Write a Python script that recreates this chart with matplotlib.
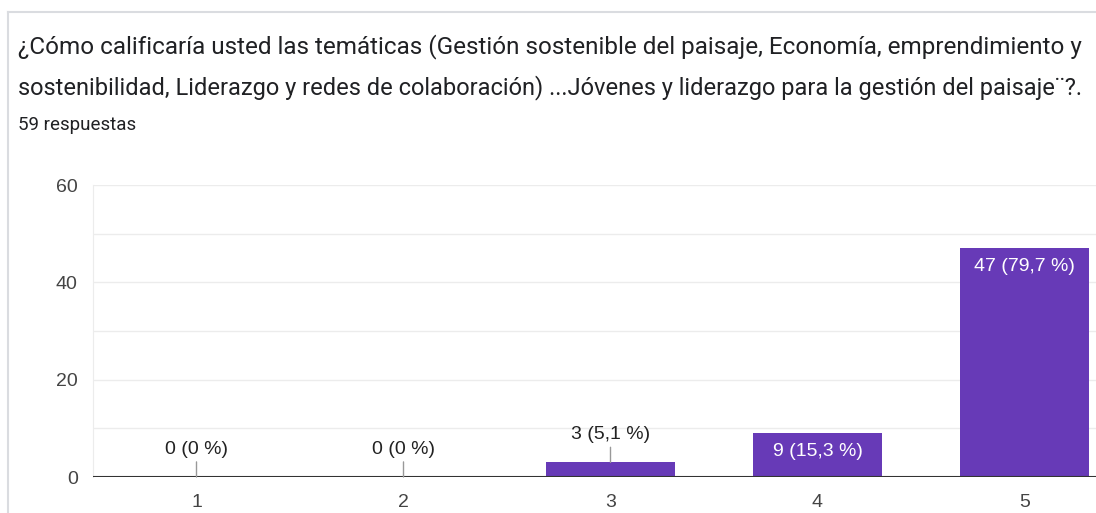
import matplotlib.pyplot as plt
from matplotlib.lines import Line2D

plt.rcParams['font.family'] = ['Roboto', 'DejaVu Sans']

# datos
categorias = ['1', '2', '3', '4', '5']
respuestas = [0, 0, 3, 9, 47]
porcentajes = ['0', '0', '5,1', '15,3', '79,7']
yticks = [0, 20, 40, 60]

titulo_1 = '¿Cómo calificaría usted las temáticas (Gestión sostenible del paisaje, Economía, emprendimiento y'
titulo_2 = 'sostenibilidad, Liderazgo y redes de colaboración) ...Jóvenes y liderazgo para la gestión del paisaje¨?.'
subtitulo = '59 respuestas'

W, H = 1096, 513
fig = plt.figure(figsize=(W / 100, H / 100), dpi=100)
fig.patch.set_facecolor('white')

# borde de la tarjeta
fig.add_artist(Line2D([8 / W, 1], [1 - 12 / H, 1 - 12 / H], transform=fig.transFigure,
                      color='#dadce0', lw=1.5))
fig.add_artist(Line2D([8 / W, 8 / W], [0, 1 - 12 / H], transform=fig.transFigure,
                      color='#dadce0', lw=1.5))

fig.text(18 / W, 1 - 47 / H, titulo_1, fontsize=17.5, color='#202124', va='center', ha='left')
fig.text(18 / W, 1 - 88 / H, titulo_2, fontsize=17.0, color='#202124', va='center', ha='left')
fig.text(18 / W, 1 - 125 / H, subtitulo, fontsize=13.5, color='#202124', va='center', ha='left')

fuente = ['Liberation Sans', 'DejaVu Sans']

paso = 207
ax = fig.add_axes([93 / W, 36 / H, 5 * paso / W, (477 - 185) / H])
x = list(range(1, len(categorias) + 1))
ax.bar(x, respuestas, width=0.62, color='#673ab7', zorder=3)

ax.set_xlim(0.5, 5.5)
ax.set_ylim(0, 60)
ax.set_yticks(yticks)
ax.set_yticks(range(0, 61, 10), minor=True)
ax.set_xticks(x)
ax.set_xticklabels(categorias)
ax.grid(axis='y', which='both', color='#ececec', lw=1, zorder=0)
ax.tick_params(axis='both', which='both', length=0, labelsize=14, colors='#444444')
ax.tick_params(axis='x', pad=12)
ax.tick_params(axis='y', pad=11)
for lab in ax.get_xticklabels() + ax.get_yticklabels():
    lab.set_family(fuente)
for s in ['top', 'right', 'bottom']:
    ax.spines[s].set_visible(False)
ax.spines['left'].set_color('#ececec')
ax.axhline(0, color='#333333', lw=1.5, zorder=4)

for xi, n, p in zip(x, respuestas, porcentajes):
    etiqueta = f'{n} ({p} %)'
    if n > 5:
        ax.annotate(etiqueta, (xi, n), xytext=(0, -13), textcoords='offset points',
                    ha='center', va='center', fontsize=14, family=fuente,
                    color='white', zorder=5)
    else:
        ax.annotate(etiqueta, (xi, n), xytext=(0, 20), textcoords='offset points',
                    ha='center', va='center', fontsize=14, family=fuente,
                    color='#222222', zorder=5,
                    arrowprops=dict(arrowstyle='-', color='#999999', lw=1,
                                    shrinkA=1, shrinkB=0))

fig.savefig('out.png', dpi=100)
